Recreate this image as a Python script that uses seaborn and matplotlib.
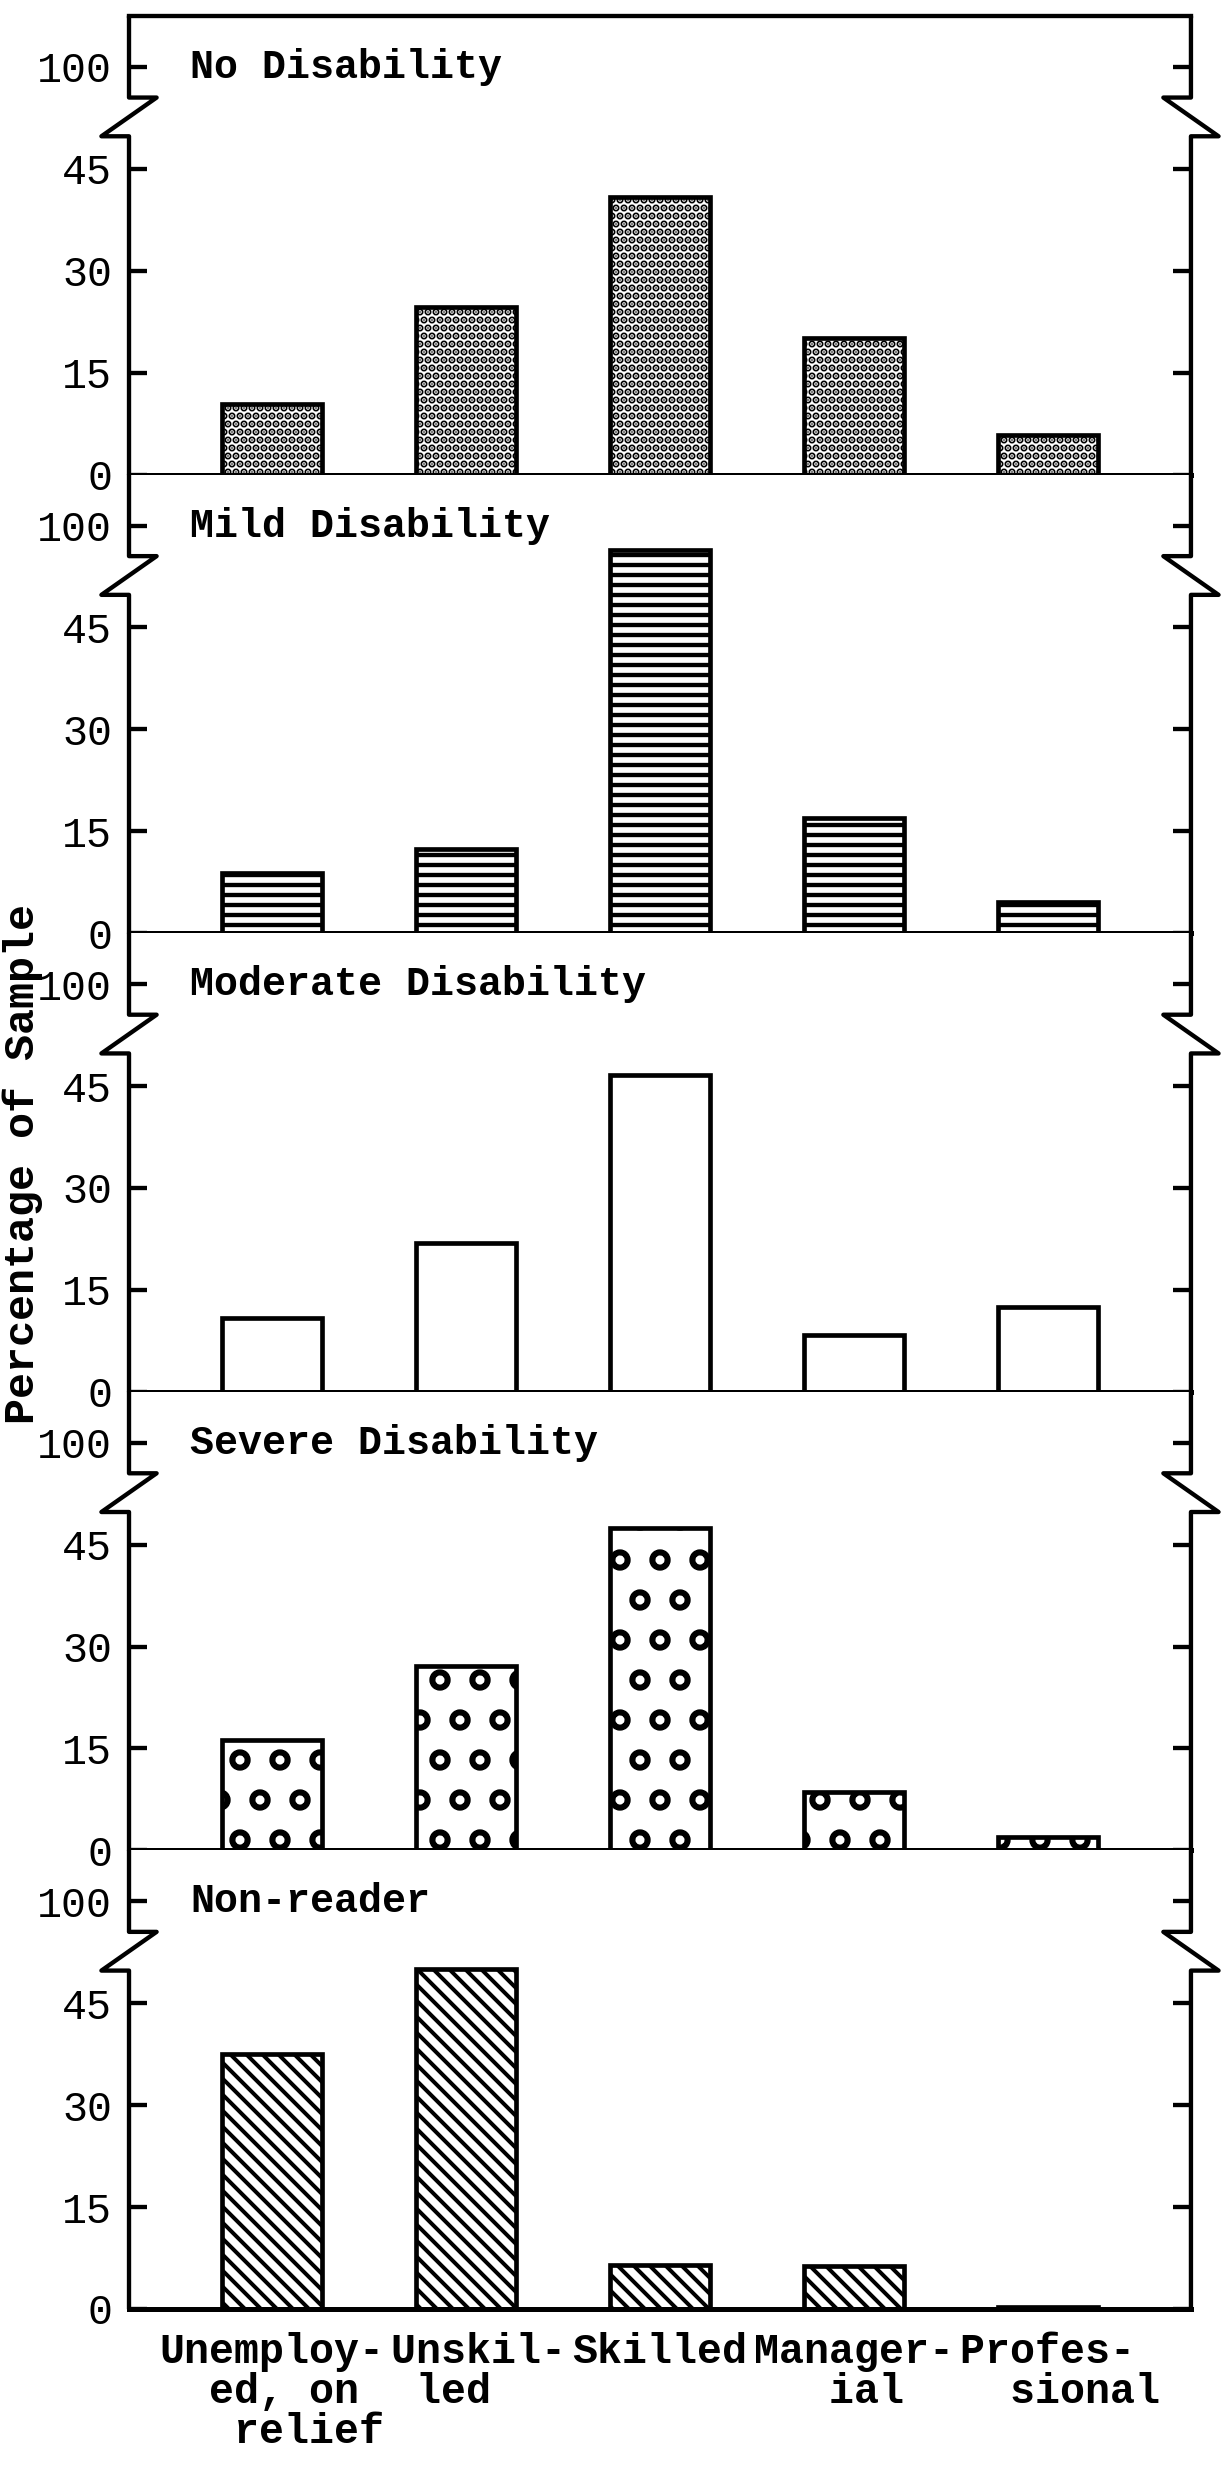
import matplotlib
matplotlib.use("Agg")
import matplotlib.pyplot as plt
import matplotlib.transforms as mtransforms
import seaborn as sns

# ---------------------------
# DATA (% of sample)
# the axis is broken between 45 and 100, bars are kept as drawn
# ---------------------------
occupations = ["Unemployed, on relief", "Unskilled", "Skilled", "Managerial", "Professional"]
occupation_labels = ["Unemploy-\n  ed, on\n   relief", " Unskil-\n  led", "Skilled",
                     "Manager-\n   ial", " Profes-\n   sional"]

groups = ["No Disability", "Mild Disability", "Moderate Disability",
          "Severe Disability", "Non-reader"]
no_disability = [10.4, 24.7, 40.8, 20.1, 5.9]
mild_disability = [8.9, 12.4, 56.4, 16.9, 4.6]
moderate_disability = [10.8, 21.9, 46.6, 8.4, 12.5]
severe_disability = [16.3, 27.1, 47.5, 8.6, 1.9]
non_reader = [37.5, 50.0, 6.4, 6.3, 0.3]

ytick_pos = [0, 15, 30, 45, 60]
ytick_labels = ["0", "15", "30", "45", "100"]

series = [no_disability, mild_disability, moderate_disability, severe_disability, non_reader]
hatches = [".....", "----", None, "o", "\\" * 5]
hatch_lw = [1.6, 1.3, 1.0, 1.6, 1.2]

# ---------------------------
# STYLE
# ---------------------------
DPI = 240
sns.set_theme(style="white", rc={
    "text.color": "black", "axes.labelcolor": "black",
    "xtick.color": "black", "ytick.color": "black",
    "axes.edgecolor": "black",
})
plt.rcParams["font.family"] = ["Liberation Mono", "DejaVu Sans Mono"]
plt.rcParams["hatch.linewidth"] = 1.1
plt.rcParams["hatch.color"] = "black"

fig, axes = plt.subplots(5, 1, figsize=(1224 / DPI, 2466 / DPI), dpi=DPI, sharex=True)
fig.subplots_adjust(left=0.1054, right=0.973, top=0.9935, bottom=0.0637, hspace=0)

ytop = 67.5
brk_hi, brk_lo = 55.5, 49.8
d = 0.026

for i, (ax, name, vals, hatch) in enumerate(zip(axes, groups, series, hatches)):
    sns.barplot(x=occupations, y=vals, ax=ax, color="white", saturation=1,
                edgecolor="black", linewidth=1.4, width=0.515, hatch=hatch)
    for p in ax.patches:
        if hasattr(p, "set_hatch_linewidth"):
            p.set_hatch_linewidth(hatch_lw[i])
    ax.set_ylim(0, ytop)
    ax.set_xlim(-0.737, 4.737)
    ax.set_ylabel("")

    ax.set_yticks(ytick_pos, ytick_labels)
    ax.tick_params(axis="y", direction="in", length=5.4, width=1.3,
                   left=True, right=True, pad=5, labelsize=12.5)
    ax.tick_params(axis="x", length=0, labelbottom=(i == len(axes) - 1))

    for sp in ["left", "right"]:
        ax.spines[sp].set_visible(False)
    ax.spines["bottom"].set_linewidth(1.5)
    ax.spines["top"].set_linewidth(1.3)
    ax.spines["top"].set_visible(i == 0)

    # hand drawn side axes with the break mark
    trans = mtransforms.blended_transform_factory(ax.transAxes, ax.transData)
    ax.plot([0, 0, d, -d, 0, 0], [ytop, brk_hi, brk_hi, brk_lo, brk_lo, 0],
            transform=trans, color="black", lw=1.3, clip_on=False,
            solid_joinstyle="round", solid_capstyle="round")
    ax.plot([1, 1, 1 - d, 1 + d, 1, 1], [ytop, brk_hi, brk_hi, brk_lo, brk_lo, 0],
            transform=trans, color="black", lw=1.3, clip_on=False,
            solid_joinstyle="round", solid_capstyle="round")

    ax.text(0.0575, 60, name, transform=trans, ha="left", va="center",
            fontsize=12, fontweight="bold")

axes[-1].set_xticks(range(len(occupations)), occupation_labels)
for t in axes[-1].get_xticklabels():
    t.set_multialignment("left")
    t.set_linespacing(1.0)
    t.set_fontsize(12.5)
    t.set_fontweight("bold")
axes[-1].tick_params(axis="x", pad=7)

fig.text(23 / 1224, 1 - 1164 / 2466, "Percentage of Sample", rotation=90,
         ha="center", va="center", fontsize=13, fontweight="bold")

fig.savefig("out.png", dpi=DPI)
